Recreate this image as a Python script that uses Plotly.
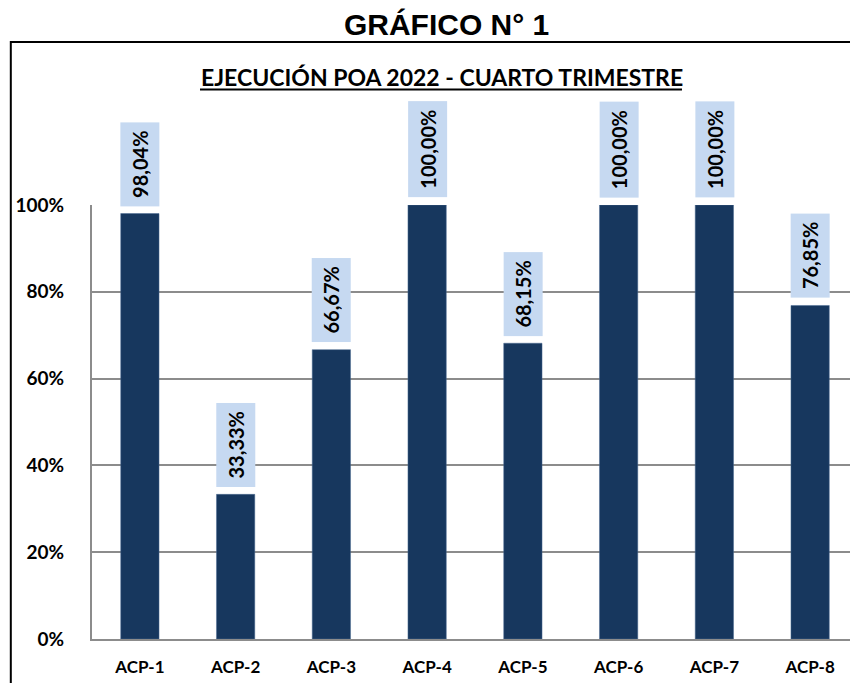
import plotly.graph_objects as go

# datos del gráfico
categorias = ["ACP-1", "ACP-2", "ACP-3", "ACP-4", "ACP-5", "ACP-6", "ACP-7", "ACP-8"]
ejecucion = [98.04, 33.33, 66.67, 100.00, 68.15, 100.00, 100.00, 76.85]
ticks_y = [0, 20, 40, 60, 80, 100]

valores = [v / 100 for v in ejecucion]
etiquetas = [f"{v:.2f}".replace(".", ",") + "%" for v in ejecucion]

fig = go.Figure()
fig.add_trace(go.Bar(x=categorias, y=valores, width=0.4,
                     marker=dict(color="#17375E", line=dict(color="#4A6A93", width=0.5)),
                     hoverinfo="skip"))

# etiquetas verticales con fondo celeste
for c, v, t in zip(categorias, valores, etiquetas):
    fig.add_annotation(x=c, y=v, text=t, showarrow=False,
                       textangle=-90, yanchor="bottom", yshift=7,
                       bgcolor="#C6D9F1", borderpad=8, height=22,
                       font=dict(family="Lato", size=20, color="black", weight="bold"))

# titulo interno subrayado
fig.add_annotation(x=0.4565, y=1.295, xref="paper", yref="paper", showarrow=False,
                   yanchor="middle",
                   text="EJECUCIÓN POA 2022 - CUARTO TRIMESTRE",
                   font=dict(family="Lato", size=23, color="black", weight="bold"))
fig.add_shape(type="line", xref="paper", yref="paper", x0=0.1410, x1=0.7702,
              y0=1.266, y1=1.266, line=dict(color="black", width=2))

# marco exterior
fig.add_shape(type="rect", xref="paper", yref="paper", x0=-0.106, x1=1.05,
              y0=-0.2, y1=1.3756, line=dict(color="black", width=2))

# la pagina deja 8px de margen, por eso 850x675
fig.update_layout(
    width=850, height=675,
    margin=dict(l=84, r=0, t=197, b=44, autoexpand=False),
    paper_bgcolor="white", plot_bgcolor="white",
    showlegend=False,
    title=dict(text="<b>GRÁFICO N° 1</b>", x=0.516, xanchor="center", y=0.975,
               yanchor="middle", font=dict(family="Liberation Sans", size=30, color="black")),
    bargap=0.6,
)
fig.update_xaxes(showline=True, linecolor="#8C8C8C", linewidth=2, ticks="",
                 ticklabelstandoff=12, automargin=False,
                 tickfont=dict(family="Lato", size=17, color="black", weight="bold"))
fig.update_yaxes(range=[0, 1], tickvals=[t / 100 for t in ticks_y],
                 ticktext=[f"{t}%" for t in ticks_y],
                 showgrid=True, gridcolor="#8C8C8C", gridwidth=2,
                 zeroline=False, showline=True, linecolor="#8C8C8C", linewidth=2,
                 ticks="", ticklabelstandoff=22, automargin=False,
                 tickfont=dict(family="Lato", size=19, color="black", weight="bold"))

fig.write_html("out.html")
